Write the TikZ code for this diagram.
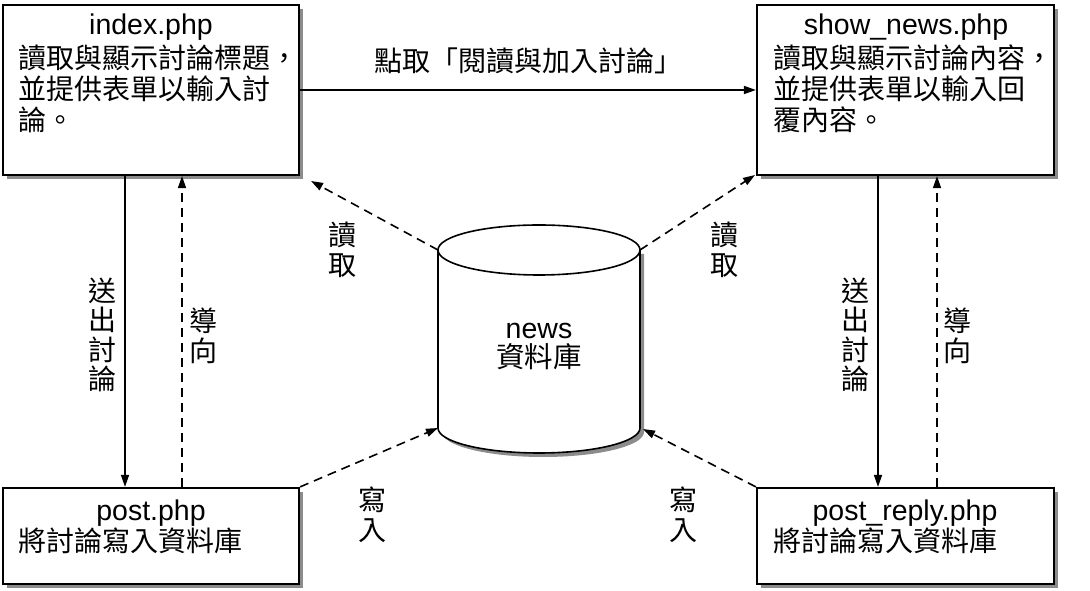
\documentclass[tikz,border=0pt]{standalone}
\usepackage{fontspec}
\setmainfont{Liberation Sans}
\newfontfamily\cjk{Noto Sans CJK TC}
\usetikzlibrary{shadows,arrows.meta,positioning}

\tikzset{
  pagebox/.style={draw,line width=2.2pt,fill=white,rectangle,inner sep=0pt,
    drop shadow={shadow xshift=4pt,shadow yshift=-4pt,fill=black!45,opacity=1}},
  title/.style={font=\fontsize{28.5pt}{31pt}\selectfont,anchor=base,inner sep=0pt},
  body/.style={font=\cjk\fontsize{28pt}{31pt}\selectfont,align=left,anchor=north west,inner sep=0pt},
  vlabel/.style={font=\cjk\fontsize{28pt}{29.5pt}\selectfont,align=center,inner sep=0pt},
  go/.style={line width=1.6pt,-{Triangle[length=12pt,width=8pt]}},
  back/.style={go,dash pattern=on 9pt off 6pt}
}

\begin{document}
\begin{tikzpicture}[x=1pt,y=1pt]
\useasboundingbox (0,0) rectangle (1090,591);

% the four pages
\node[pagebox,minimum width=296pt,minimum height=170pt] (idx) at (151,501) {};
\node[pagebox,minimum width=297pt,minimum height=170pt] (shw) at (905.5,501) {};
\node[pagebox,minimum width=296pt,minimum height=96pt] (post) at (151,55) {};
\node[pagebox,minimum width=297pt,minimum height=96pt] (rep) at (905.5,55) {};

\node[title] (idxt) at (151,556) {index.php};
\node[body] (idxb) at (18,546) {讀取與顯示討論標題，\\並提供表單以輸入討\\論。};
\node[title] (shwt) at (906,556) {show\_news.php};
\node[body] (shwb) at (773,546) {讀取與顯示討論內容，\\並提供表單以輸入回\\覆內容。};
\node[title] (postt) at (151,70) {post.php};
\node[body] (postb) at (18,63) {將討論寫入資料庫};
\node[title] (rept) at (905,70) {post\_reply.php};
\node[body] (repb) at (773,63) {將討論寫入資料庫};

% database
\fill[black!45] (442,337) -- (442,159) arc[start angle=180,end angle=360,x radius=101,y radius=25] -- (644,337) -- cycle;
\draw[line width=1.6pt,fill=white] (438,341) -- (438,163) arc[start angle=180,end angle=360,x radius=101,y radius=25] -- (640,341);
\draw[line width=1.6pt,fill=white] (539,341) ellipse[x radius=101,y radius=25];
\node[font=\fontsize{28.5pt}{31pt}\selectfont,align=center,inner sep=0pt] (db) at (539,245) {news\\[-2pt]{\cjk 資料庫}};
\coordinate (dbtl) at (438,341);
\coordinate (dbtr) at (640,341);
\coordinate (dbbl) at (438,163);
\coordinate (dbbr) at (643,162);
\coordinate (idxc) at (311,410);
\coordinate (shwc) at (755,416);

% links
\draw[go] (idx.east) -- node[above=12pt,font=\cjk\fontsize{28pt}{31pt}\selectfont] (clk) {點取「閱讀與加入討論」} (shw.west);

\draw[go] ([xshift=-26pt]idx.south) -- ([xshift=-26pt]post.north);
\draw[back] ([xshift=31pt]post.north) -- ([xshift=31pt]idx.south);
\draw[go] ([xshift=-27.5pt]shw.south) -- ([xshift=-27.5pt]rep.north);
\draw[back] ([xshift=31.5pt]rep.north) -- ([xshift=31.5pt]shw.south);
\node[vlabel] (send1) at (102,256) {送\\出\\討\\論};
\node[vlabel] (lead1) at (203,255) {導\\向};
\node[vlabel] (send2) at (855,256) {送\\出\\討\\論};
\node[vlabel] (lead2) at (957,255) {導\\向};

\draw[back] (dbtl) -- (idxc);
\draw[back] (dbtr) -- (shwc);
\draw[back] (post.north east) -- (dbbl);
\draw[back] (rep.north west) -- (dbbr);
\node[vlabel] (read1) at (342,341) {讀\\取};
\node[vlabel] (read2) at (724,341) {讀\\取};
\node[vlabel] (write1) at (372,76) {寫\\入};
\node[vlabel] (write2) at (683,76) {寫\\入};
\end{tikzpicture}
\end{document}
